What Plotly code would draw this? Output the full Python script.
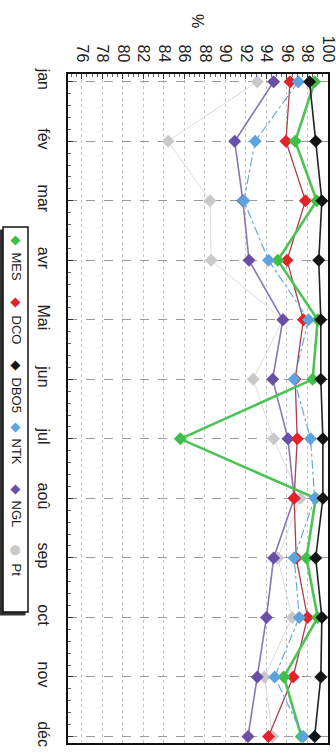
import plotly.graph_objects as go

months = ["jan", "fév", "mar", "avr", "Mai", "jun", "jul", "aoû", "sep", "oct", "nov", "déc"]
MES  = [98.7, 96.8, 98.9, 95.1, 99.0, 98.5, 85.6, 98.8, 97.9, 99.0, 95.7, 97.4]
DCO  = [96.3, 95.9, 97.8, 96.0, 97.6, 96.8, 97.0, 96.7, 96.9, 98.0, 96.6, 94.2]
DBO5 = [98.2, 98.8, 99.4, 99.1, 99.3, 99.3, 99.5, 99.5, 98.8, 99.4, 99.3, 98.7]
NTK  = [97.1, 92.9, 91.8, 94.2, 98.1, 96.7, 98.3, 98.7, 96.7, 97.2, 94.8, 97.6]
NGL  = [94.7, 90.9, 91.7, 92.3, 95.6, 94.6, 96.1, 96.7, 94.7, 94.0, 93.1, 92.2]
Pt   = [93.1, 84.4, 88.5, 88.6, 95.6, 92.7, 94.7, 97.3, 95.1, 96.5, 93.8, 94.6]
y_ticks = [76, 78, 80, 82, 84, 86, 88, 90, 92, 94, 96, 98, 100]

idx = list(range(len(months)))
FONT = "Liberation Sans, Arial, sans-serif"

series = [
    ("Pt", Pt, "#c9c9c9", "#dcdcdc", 1.0, "solid"),
    ("NGL", NGL, "#6a4fa6", "#8a76b6", 1.6, "solid"),
    ("DCO", DCO, "#e42229", "#a8404a", 1.3, "solid"),
    ("MES", MES, "#3fbf47", "#4cc354", 2.6, "solid"),
    ("NTK", NTK, "#5da3dd", "#5da3dd", 1.1, "dashdot"),
    ("DBO5", DBO5, "#151515", "#222222", 1.6, "solid"),
]

fig = go.Figure()
for name, vals, mcol, lcol, lw, dash in series:
    fig.add_trace(go.Scatter(
        x=vals, y=idx, mode="lines+markers", name=name,
        line=dict(color=lcol, width=lw, dash=dash),
        marker=dict(symbol="diamond", size=10, color=mcol, line=dict(width=0)),
        showlegend=False,
    ))

L, R, T, B = 68, 328, 74, 743
W, H = 336, 756
def px(x):
    return (x - L) / (R - L)
def py(y):
    return (B - y) / (B - T)

fig.update_layout(
    width=W, height=H,
    margin=dict(l=L, r=W - R, t=T, b=H - B, autoexpand=False),
    paper_bgcolor="white", plot_bgcolor="white",
    font=dict(family=FONT, color="#222", size=16),
    showlegend=False,
)
fig.update_xaxes(
    side="top", range=[74.65, 100.0], tickmode="array", tickvals=y_ticks,
    ticktext=[str(v) for v in y_ticks], tickangle=90,
    tickfont=dict(size=16, family=FONT, color="#222"),
    showline=True, linecolor="#111", linewidth=2, mirror=True,
    ticks="inside", ticklen=5, tickcolor="#333",
    showgrid=True, gridcolor="#c4c4c4", griddash="dot", gridwidth=1,
    zeroline=False, ticklabelstandoff=4, ticklabeloverflow="allow", automargin=False,
    minor=dict(tickmode="linear", tick0=76, dtick=0.5, ticks="inside", ticklen=3, tickcolor="#666", showgrid=False),
)
fig.update_yaxes(
    range=[11.11, -0.13], tickmode="array", tickvals=idx, ticktext=months,
    tickangle=90, tickfont=dict(size=16, family=FONT, color="#222"),
    showline=True, linecolor="#111", linewidth=2, mirror=True,
    ticks="inside", ticklen=5, tickcolor="#333",
    showgrid=True, gridcolor="#9a9a9a", griddash="dash", gridwidth=1,
    zeroline=False, ticklabelstandoff=9, ticklabeloverflow="allow", automargin=False,
    minor=dict(tickmode="linear", tick0=0, dtick=0.2, ticks="inside", ticklen=3, tickcolor="#666", showgrid=False),
)

annotations = [dict(text="%", x=px(198), y=py(21), xref="paper", yref="paper",
                    showarrow=False, textangle=90, font=dict(size=16, family=FONT, color="#222"),
                    xanchor="center", yanchor="middle")]

shapes = [
    dict(type="rect", xref="paper", yref="paper", x0=px(0), x1=px(25), y0=py(615), y1=py(230),
         line=dict(color="#333", width=1), fillcolor="#333", layer="above"),
    dict(type="rect", xref="paper", yref="paper", x0=px(3), x1=px(28), y0=py(612), y1=py(227),
         line=dict(color="#111", width=1.5), fillcolor="white", layer="above"),
]

legend_items = [
    ("MES", "#3fbf47", "◆", 240, 267),
    ("DCO", "#e42229", "◆", 302, 330),
    ("DBO5", "#151515", "◆", 365, 395),
    ("NTK", "#5da3dd", "◆", 427, 451),
    ("NGL", "#6a4fa6", "◆", 489, 514),
    ("Pt", "#c9c9c9", "●", 550, 570),
]
for name, col, sym, my, ty in legend_items:
    annotations.append(dict(text=sym, x=px(16.5), y=py(my), xref="paper", yref="paper",
                            showarrow=False, textangle=90, font=dict(size=13, color=col, family="DejaVu Sans"),
                            xanchor="center", yanchor="middle"))
    annotations.append(dict(text=name, x=px(16.5), y=py(ty), xref="paper", yref="paper",
                            showarrow=False, textangle=90, font=dict(size=13, color="#222", family=FONT),
                            xanchor="center", yanchor="middle"))

fig.update_layout(annotations=annotations, shapes=shapes)
fig.write_html("out.html", config={"displayModeBar": False},
               post_script="document.body.style.margin='0';document.body.style.padding='0';")
